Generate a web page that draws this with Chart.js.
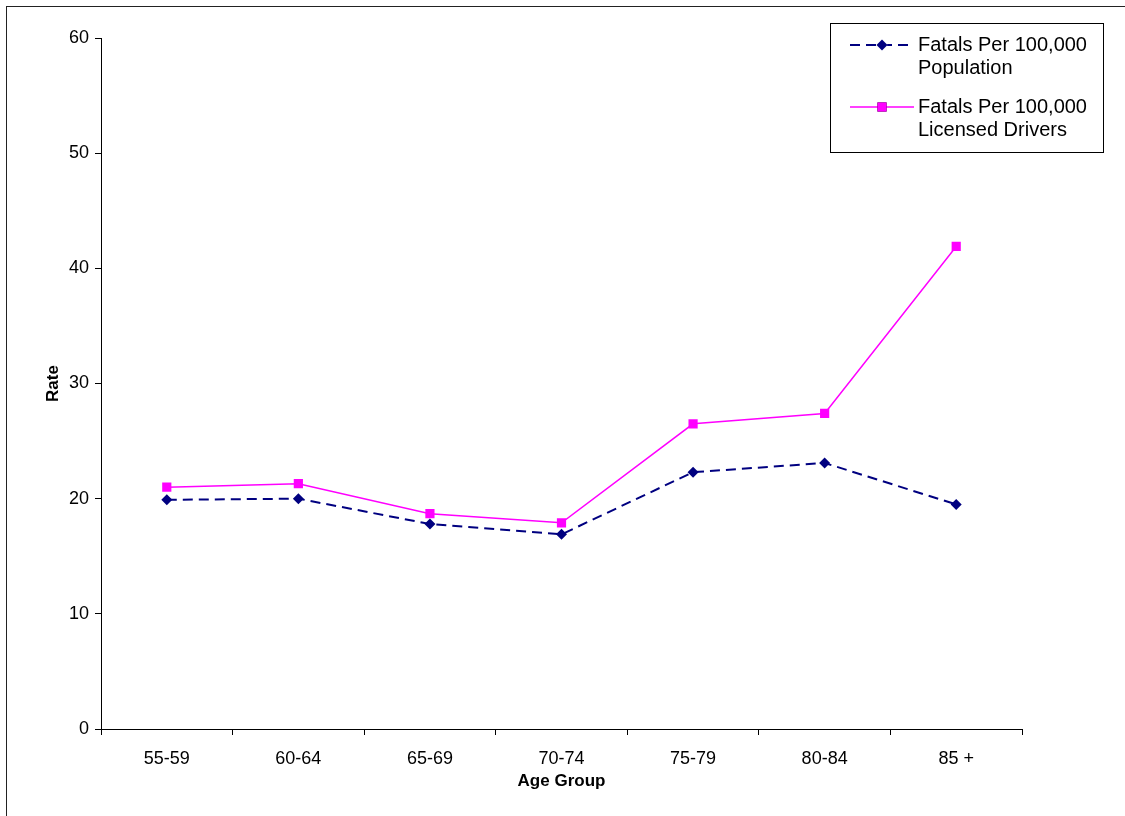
<!DOCTYPE html>
<html>
<head>
<meta charset="utf-8">
<script src="https://cdn.jsdelivr.net/npm/chart.js@4/dist/chart.umd.min.js"></script>
<style>
  html, body { margin: 0; padding: 0; background: #fff; overflow: hidden; }
  #wrap { position: relative; width: 1125px; height: 816px; }
  #frame { position: absolute; left: 6px; top: 6px; width: 1300px; height: 1000px;
           border-left: 1.5px solid #222; border-top: 1.5px solid #222; }
  canvas { position: absolute; left: 0; top: 0; }
</style>
</head>
<body>
<div id="wrap">
  <div id="frame"></div>
  <canvas id="chart" width="1125" height="816"></canvas>
</div>
<script>
// age groups on the x axis
const ageGroups = ['55-59', '60-64', '65-69', '70-74', '75-79', '80-84', '85 +'];
// fatal crash rates
const perPopulation = [19.9, 20.0, 17.8, 16.9, 22.3, 23.1, 19.5];
const perLicensed   = [21.0, 21.3, 18.7, 17.9, 26.5, 27.4, 41.9];
const seriesNames = [['Fatals Per 100,000', 'Population'], ['Fatals Per 100,000', 'Licensed Drivers']];
const yTicks = [0, 10, 20, 30, 40, 50, 60];

const FONT = '"Liberation Sans", Arial, sans-serif';

// legend box drawn by hand, the built-in one can't wrap labels
const boxLegend = {
  id: 'boxLegend',
  afterDraw(chart) {
    const ctx = chart.ctx;
    const x0 = 830, y0 = 23, w = 273, h = 129;
    ctx.save();
    ctx.fillStyle = '#fff';
    ctx.fillRect(x0, y0, w, h);
    ctx.strokeStyle = '#000';
    ctx.lineWidth = 1;
    ctx.strokeRect(x0 + 0.5, y0 + 0.5, w, h);
    const rows = [45, 107];
    chart.data.datasets.forEach((ds, i) => {
      const y = rows[i];
      ctx.strokeStyle = ds.borderColor;
      ctx.lineWidth = ds.borderWidth;
      ctx.setLineDash(ds.borderDash || []);
      ctx.beginPath();
      ctx.moveTo(850, y);
      ctx.lineTo(914, y);
      ctx.stroke();
      ctx.setLineDash([]);
      Chart.helpers.drawPoint(ctx, {
        pointStyle: ds.pointStyle, radius: ds.pointRadius, borderWidth: 0
      }, 882, y);
      ctx.fillStyle = ds.pointBackgroundColor;
      ctx.fill();
      ctx.fillStyle = '#000';
      ctx.font = '20px ' + FONT;
      ctx.textBaseline = 'middle';
      seriesNames[i].forEach((t, j) => ctx.fillText(t, 918, y + j * 23));
    });
    ctx.restore();
  }
};

new Chart(document.getElementById('chart'), {
  type: 'line',
  data: {
    labels: ageGroups,
    datasets: [
      {
        label: seriesNames[0].join(' '),
        data: perPopulation,
        borderColor: '#000080',
        backgroundColor: '#000080',
        pointBackgroundColor: '#000080',
        borderWidth: 2,
        borderDash: [10, 6],
        pointStyle: 'rectRot',
        pointRadius: 5.5,
        pointBorderWidth: 0,
        tension: 0
      },
      {
        label: seriesNames[1].join(' '),
        data: perLicensed,
        borderColor: '#FF00FF',
        backgroundColor: '#FF00FF',
        pointBackgroundColor: '#FF00FF',
        borderWidth: 1.5,
        pointStyle: 'rect',
        pointRadius: 6.5,
        pointBorderWidth: 0,
        tension: 0
      }
    ]
  },
  options: {
    responsive: false,
    animation: false,
    devicePixelRatio: 1,
    layout: { padding: { top: 38, right: 103, left: 0, bottom: 0 } },
    plugins: {
      legend: { display: false },
      tooltip: { enabled: false }
    },
    scales: {
      x: {
        offset: true,
        grid: { offset: true, drawOnChartArea: false, color: '#000', tickLength: 6, tickWidth: 1 },
        border: { color: '#000', width: 1 },
        ticks: { color: '#000', font: { family: FONT, size: 18 }, padding: 13, maxRotation: 0 },
        title: { display: true, text: 'Age Group', color: '#000', font: { family: FONT, size: 17, weight: 'bold' }, padding: { top: 0, bottom: 24 } },
        afterFit: s => { s.height = 87; }
      },
      y: {
        min: 0, max: 60,
        afterBuildTicks: s => { s.ticks = yTicks.map(v => ({ value: v })); },
        grid: { drawOnChartArea: false, color: '#000', tickLength: 6, tickWidth: 1 },
        border: { color: '#000', width: 1 },
        ticks: { color: '#000', font: { family: FONT, size: 18 }, padding: 6 },
        title: { display: true, text: 'Rate', color: '#000', font: { family: FONT, size: 17, weight: 'bold' }, padding: { top: 43, bottom: 0 } },
        afterFit: s => { s.width = 101; }
      }
    }
  },
  plugins: [boxLegend]
});
</script>
</body>
</html>
